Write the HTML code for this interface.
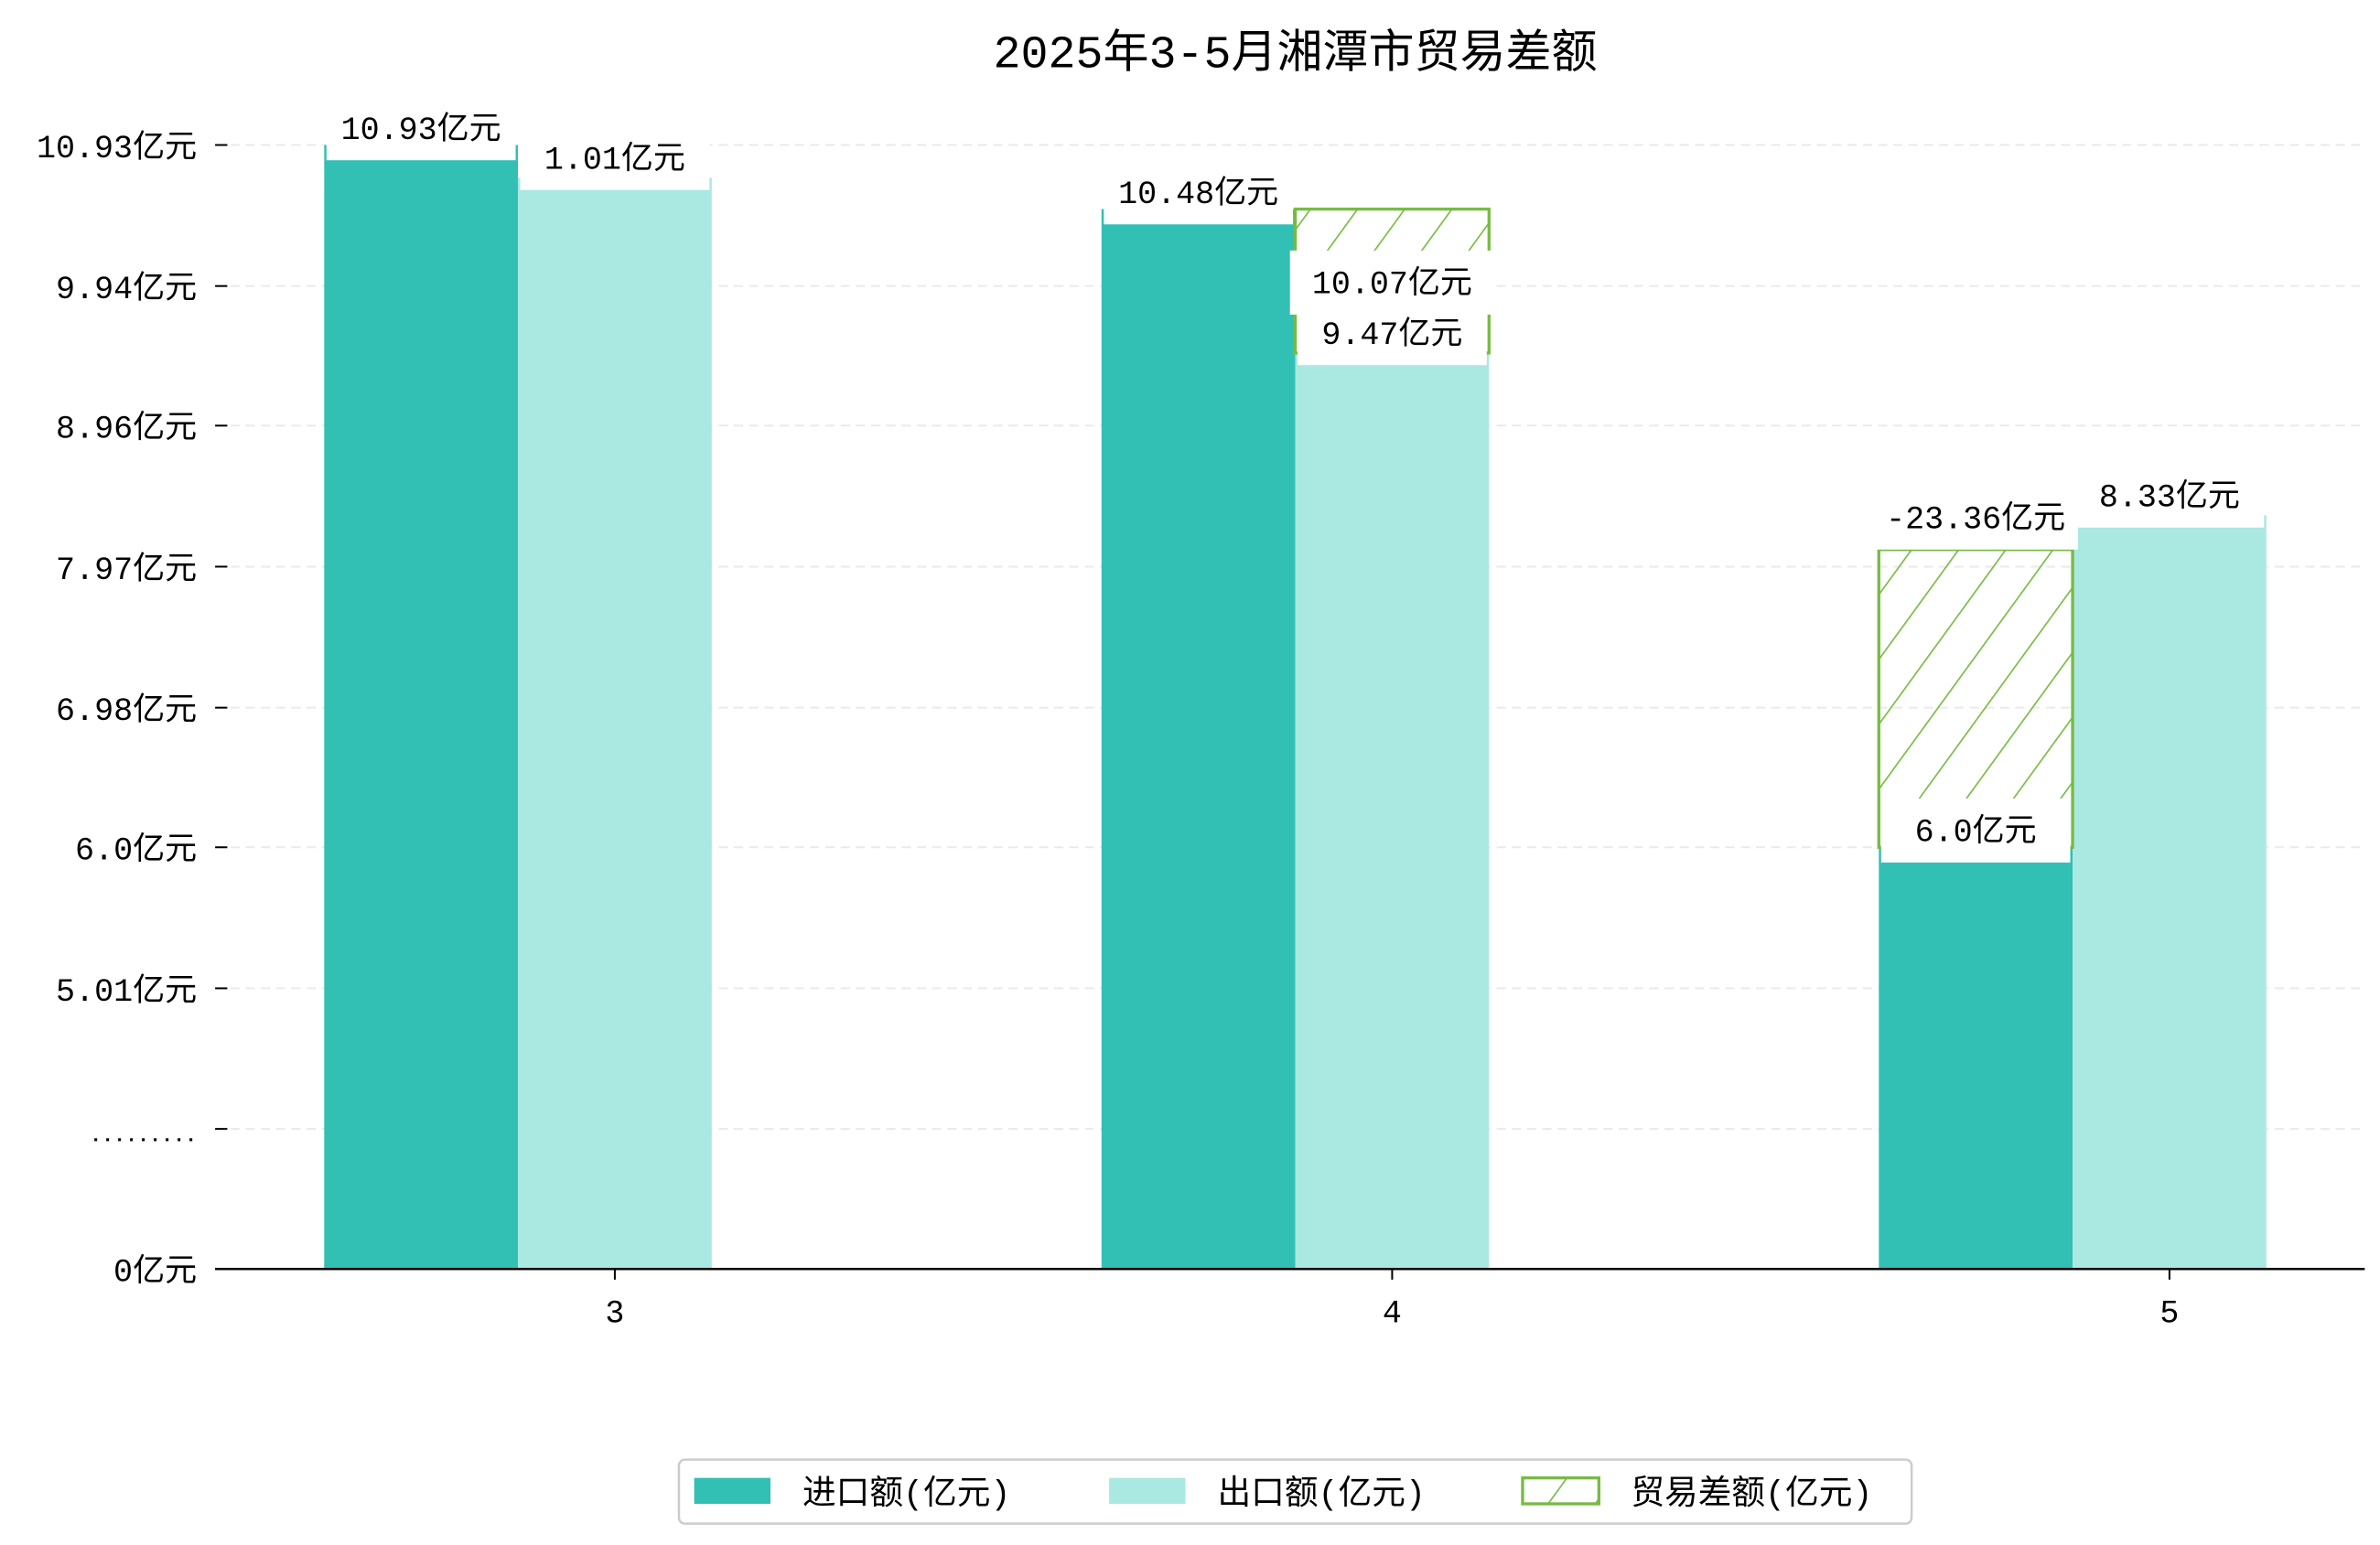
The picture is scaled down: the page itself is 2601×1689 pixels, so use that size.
<!DOCTYPE html>
<html><head><meta charset="utf-8">
<style>
html,body{margin:0;padding:0;background:#fff;}
svg{display:block;font-family:"Liberation Mono","Noto Sans CJK SC",monospace;}
</style></head>
<body>
<svg id="chart" width="2601" height="1689" viewBox="0 0 1560 1013" preserveAspectRatio="none" xmlns="http://www.w3.org/2000/svg">
<defs>
<pattern id="hatch" patternUnits="userSpaceOnUse" width="25" height="25" patternTransform="rotate(36)">
<line x1="0" y1="-5" x2="0" y2="30" stroke="#77bb44" stroke-width="2"/>
</pattern>
</defs>
<text x="849" y="44" text-anchor="middle" font-size="30" fill="#000">2025年3-5月湘潭市贸易差额</text>
<g id="grid"></g>
<g id="yaxis"></g>
<g id="bars"></g>
<g id="labels"></g>
<g id="xaxis"></g>
<g>
<rect x="445" y="957" width="808" height="42" rx="4" fill="#fff" stroke="#cccccc" stroke-width="1.5"/>
<rect x="455" y="969" width="50" height="17" fill="#32c0b4"/>
<text x="526" y="986" font-size="22" fill="#000">进口额(亿元)</text>
<rect x="727" y="969" width="50" height="17" fill="#aae8e2"/>
<text x="798" y="986" font-size="22" fill="#000">出口额(亿元)</text>
<rect x="998" y="969" width="50" height="17" fill="url(#hatch)" stroke="#77bb44" stroke-width="2"/>
<text x="1069" y="986" font-size="22" fill="#000">贸易差额(亿元)</text>
</g>
</svg>
<script>
const categories = ['3','4','5'];
const tickValues = [0, 2.5, 5.01, 6.0, 6.98, 7.97, 8.96, 9.94, 10.93];
const tickLabels = ['0亿元','.........','5.01亿元','6.0亿元','6.98亿元','7.97亿元','8.96亿元','9.94亿元','10.93亿元'];
const importValues = [10.93, 10.48, 6.0];
const exportValues = [10.70, 9.47, 8.33];
const importLabels = ['10.93亿元','10.48亿元','6.0亿元'];
const exportLabels = ['1.01亿元','9.47亿元','8.33亿元'];
const diffLow = [null, 9.47, 6.0];
const diffHigh = [null, 10.48, 8.09];
const diffLabels = ['', '10.07亿元', '-23.36亿元'];

const NS = 'http://www.w3.org/2000/svg';
const L = 141, R = 1550, BASE = 832;
function y(v){
  if (v >= 5.01) return 648 - (v - 5.01) * 93.4;
  return 832 - (v / 5.01) * 184;
}
function xc(i){ return 403 + i * 509.5; }
const BW = 127;
function mk(tag, attrs, parent){
  const e = document.createElementNS(NS, tag);
  for (const k in attrs) e.setAttribute(k, attrs[k]);
  parent.appendChild(e); return e;
}
const grid = document.getElementById('grid');
const yaxis = document.getElementById('yaxis');
const bars = document.getElementById('bars');
const labels = document.getElementById('labels');
const xaxis = document.getElementById('xaxis');

tickValues.forEach((v, i) => {
  const yy = y(v);
  if (i > 0) {
    const g = mk('line', {x1:L, x2:R, y1:yy, y2:yy, stroke:'#eaeaea', 'stroke-width':1.2, 'stroke-dasharray':'6,4'}, grid);
    
    
  }
  const t = mk('line', {x1:L, x2:L+8, y1:yy, y2:yy, stroke:'#000', 'stroke-width':1.2}, yaxis);
  
  
  const dots = tickLabels[i].charAt(0) === '.';
  const tx = mk('text', {x:129, y:yy+8, 'text-anchor':'end', 'font-size':dots ? 13 : 21, 'font-weight':dots ? 'bold' : 'normal', fill:'#000'}, yaxis);
  tx.textContent = tickLabels[i];
  
  
});

function label(text, cx, cy, w){
  const r = mk('rect', {x:cx - w/2, y:cy - 20, width:w, height:42, fill:'#fff'}, labels);
  
  
  const t = mk('text', {x:cx, y:cy + 8, 'text-anchor':'middle', 'font-size':21, fill:'#000'}, labels);
  t.textContent = text;
  
  
}

categories.forEach((c, i) => {
  const cx = xc(i);
  const yi = y(importValues[i]), ye = y(exportValues[i]);
  const bi = mk('rect', {x:cx - 1.5*BW, y:yi, width:BW, height:BASE - yi, fill:'#32c0b4'}, bars);
  
  
  const be = mk('rect', {x:cx - 0.5*BW, y:ye, width:BW, height:BASE - ye, fill:'#aae8e2'}, bars);
  
  
  if (diffLow[i] !== null) {
    const lowIsImport = importValues[i] <= exportValues[i];
    const dx = lowIsImport ? cx - 1.5*BW : cx - 0.5*BW;
    const yt = y(diffHigh[i]), yb = y(diffLow[i]);
    const d = mk('rect', {x:dx, y:yt, width:BW, height:yb - yt, fill:'url(#hatch)', stroke:'#77bb44', 'stroke-width':2}, bars);
    
    
  }
  const tk = mk('line', {x1:cx, x2:cx, y1:BASE, y2:BASE + 7, stroke:'#000', 'stroke-width':1.2}, xaxis);
  
  
  const tl = mk('text', {x:cx, y:BASE + 35, 'text-anchor':'middle', 'font-size':21, fill:'#000'}, xaxis);
  tl.textContent = c;
  
  
});

categories.forEach((c, i) => {
  const cx = xc(i);
  label(importLabels[i], cx - BW, y(importValues[i]) - 12, 124);
  label(exportLabels[i], cx, y(exportValues[i]) - 14, 124);
  if (diffLow[i] !== null) {
    const lowIsImport = importValues[i] <= exportValues[i];
    const dcx = lowIsImport ? cx - BW : cx;
    const yt = y(diffHigh[i]), yb = y(diffLow[i]);
    const ly = lowIsImport ? yt - 22 : (yt + yb) / 2;
    label(diffLabels[i], dcx, ly, 134);
  }
});

const ax = mk('line', {x1:L, x2:R, y1:BASE, y2:BASE, stroke:'#000', 'stroke-width':1.5}, xaxis);


</script>
</body></html>
